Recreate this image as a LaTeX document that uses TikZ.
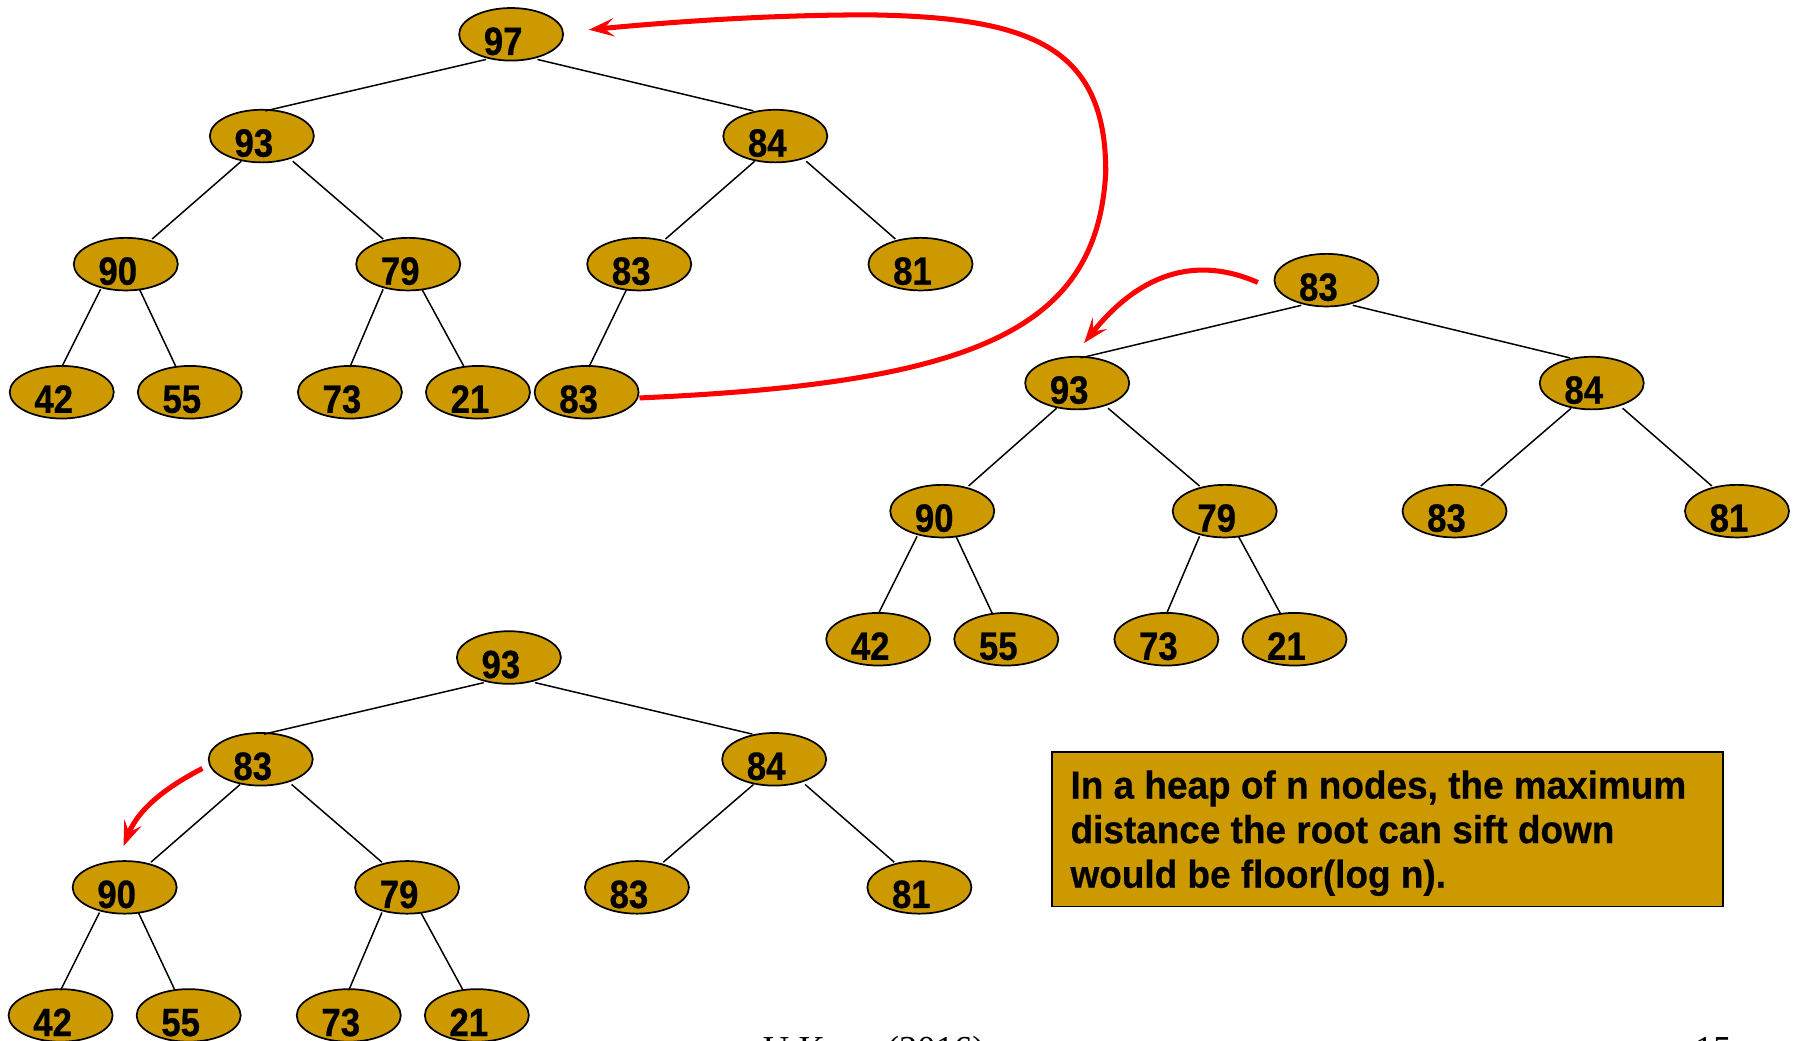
\documentclass[tikz,border=0pt]{standalone}
\usepackage{fontspec}
\setmainfont{Liberation Serif}
\newfontfamily\nodefont[FakeStretch=0.88,FakeBold=0.6]{Liberation Sans}
\newfontfamily\boxfont[FakeStretch=0.95,FakeBold=0.5]{Liberation Sans}
\usetikzlibrary{shapes.geometric,arrows.meta}
\definecolor{gold}{RGB}{204,153,0}
\definecolor{arrred}{RGB}{255,0,0}
\tikzset{
  hn/.style={ellipse, draw=black, line width=1.5pt, fill=gold,
    minimum width=91pt, minimum height=46pt, inner xsep=0pt, inner ysep=-6pt,
    text height=36pt, text depth=0pt,
    font=\nodefont\bfseries\fontsize{34.5}{34.5}\selectfont},
  edge/.style={draw=black, line width=1.3pt},
  redarrow/.style={draw=arrred, line width=4.4pt,
    -{Stealth[length=22pt,width=16pt,inset=9pt]}},
}
\newcommand\HN[4]{\node[hn] (#1) at (#2,#3) {#4\kern14pt};}
\newcommand\ED[4]{\draw[edge] ([shift={(#2,22)}]#1.center) -- ([shift={(#4,-22)}]#3.center);}
\begin{document}
\begin{tikzpicture}[x=1pt,y=-1pt]
\useasboundingbox[fill=white] (0,0) rectangle (1568,910);
% ---------- tree 1 ----------
\HN{a97}{447}{30}{97}
\HN{a93}{229}{119}{93}
\HN{a84}{678}{119}{84}
\HN{a90}{110}{231}{90}
\HN{a79}{357}{231}{79}
\HN{a83}{559}{231}{83}
\HN{a81}{805}{231}{81}
\HN{a42}{54}{343}{42}
\HN{a55}{166}{343}{55}
\HN{a73}{306}{343}{73}
\HN{a21}{418}{343}{21}
\HN{a83b}{513}{343}{83}
\ED{a97}{-22}{a93}{3}
\ED{a97}{23}{a84}{-19}
\ED{a93}{-18}{a90}{23}
\ED{a93}{27}{a79}{-22}
\ED{a84}{-18}{a83}{23}
\ED{a84}{27}{a81}{-22}
\ED{a90}{-22}{a42}{0}
\ED{a90}{12}{a55}{-12}
\ED{a79}{-22}{a73}{0}
\ED{a79}{12}{a21}{-12}
\ED{a83}{-11}{a83b}{2}
% ---------- tree 2 ----------
\HN{b83}{1160}{245}{83}
\HN{b93}{942}{335}{93}
\HN{b84}{1392}{335}{84}
\HN{b90}{824}{447}{90}
\HN{b79}{1071}{447}{79}
\HN{b83c}{1272}{447}{83}
\HN{b81}{1519}{447}{81}
\HN{b42}{768}{559}{42}
\HN{b55}{880}{559}{55}
\HN{b73}{1020}{559}{73}
\HN{b21}{1132}{559}{21}
\ED{b83}{-22}{b93}{3}
\ED{b83}{23}{b84}{-19}
\ED{b93}{-18}{b90}{23}
\ED{b93}{27}{b79}{-22}
\ED{b84}{-18}{b83c}{23}
\ED{b84}{27}{b81}{-22}
\ED{b90}{-22}{b42}{0}
\ED{b90}{12}{b55}{-12}
\ED{b79}{-22}{b73}{0}
\ED{b79}{12}{b21}{-12}
% ---------- tree 3 ----------
\HN{c93}{445}{575}{93}
\HN{c83}{228}{664}{83}
\HN{c84}{677}{664}{84}
\HN{c90}{109}{776}{90}
\HN{c79}{356}{776}{79}
\HN{c83c}{557}{776}{83}
\HN{c81}{804}{776}{81}
\HN{c42}{53}{888}{42}
\HN{c55}{165}{888}{55}
\HN{c73}{305}{888}{73}
\HN{c21}{417}{888}{21}
\ED{c93}{-22}{c83}{3}
\ED{c93}{23}{c84}{-19}
\ED{c83}{-18}{c90}{23}
\ED{c83}{27}{c79}{-22}
\ED{c84}{-18}{c83c}{23}
\ED{c84}{27}{c81}{-22}
\ED{c90}{-22}{c42}{0}
\ED{c90}{12}{c55}{-12}
\ED{c79}{-22}{c73}{0}
\ED{c79}{12}{c21}{-12}
% ---------- red arrows ----------
\draw[redarrow] ([shift={(0,5)}]a83b.east)
  .. controls (850,335) and (960,290) .. (967,150)
  .. controls (967,40) and (900,15) .. (760,13)
  .. controls (680,13) and (600,18) .. ([shift={(68,-4)}]a97.center);
\draw[redarrow] ([shift={(-60,2)}]b83.center)
  .. controls (1050,225) and (1000,235) .. ([shift={(6,-35)}]b93.center);
\draw[redarrow] ([shift={(-51,8)}]c83.center)
  .. controls (150,686) and (122,705) .. ([shift={(-1,-36)}]c90.center);
% ---------- text box ----------
\node[draw=black, line width=1.5pt, fill=gold, minimum width=587pt,
  minimum height=135pt, inner sep=0pt, anchor=north west] (tb) at (919,657) {};
\node[anchor=north west, align=left, inner sep=0pt,
  font=\boxfont\bfseries\fontsize{34}{39}\selectfont] (tt) at (936,673.5)
  {In a heap of n nodes, the maximum\\distance the root can sift down\\would be floor(log n).};
% ---------- footer ----------
\node[anchor=base west, inner sep=0pt, font=\fontsize{32}{32}\selectfont] (ft) at (667,928) {U Kang (2016)};
\node[anchor=base west, inner sep=0pt, font=\fontsize{32}{32}\selectfont] (pg) at (1482,928) {15};
\end{tikzpicture}
\end{document}
